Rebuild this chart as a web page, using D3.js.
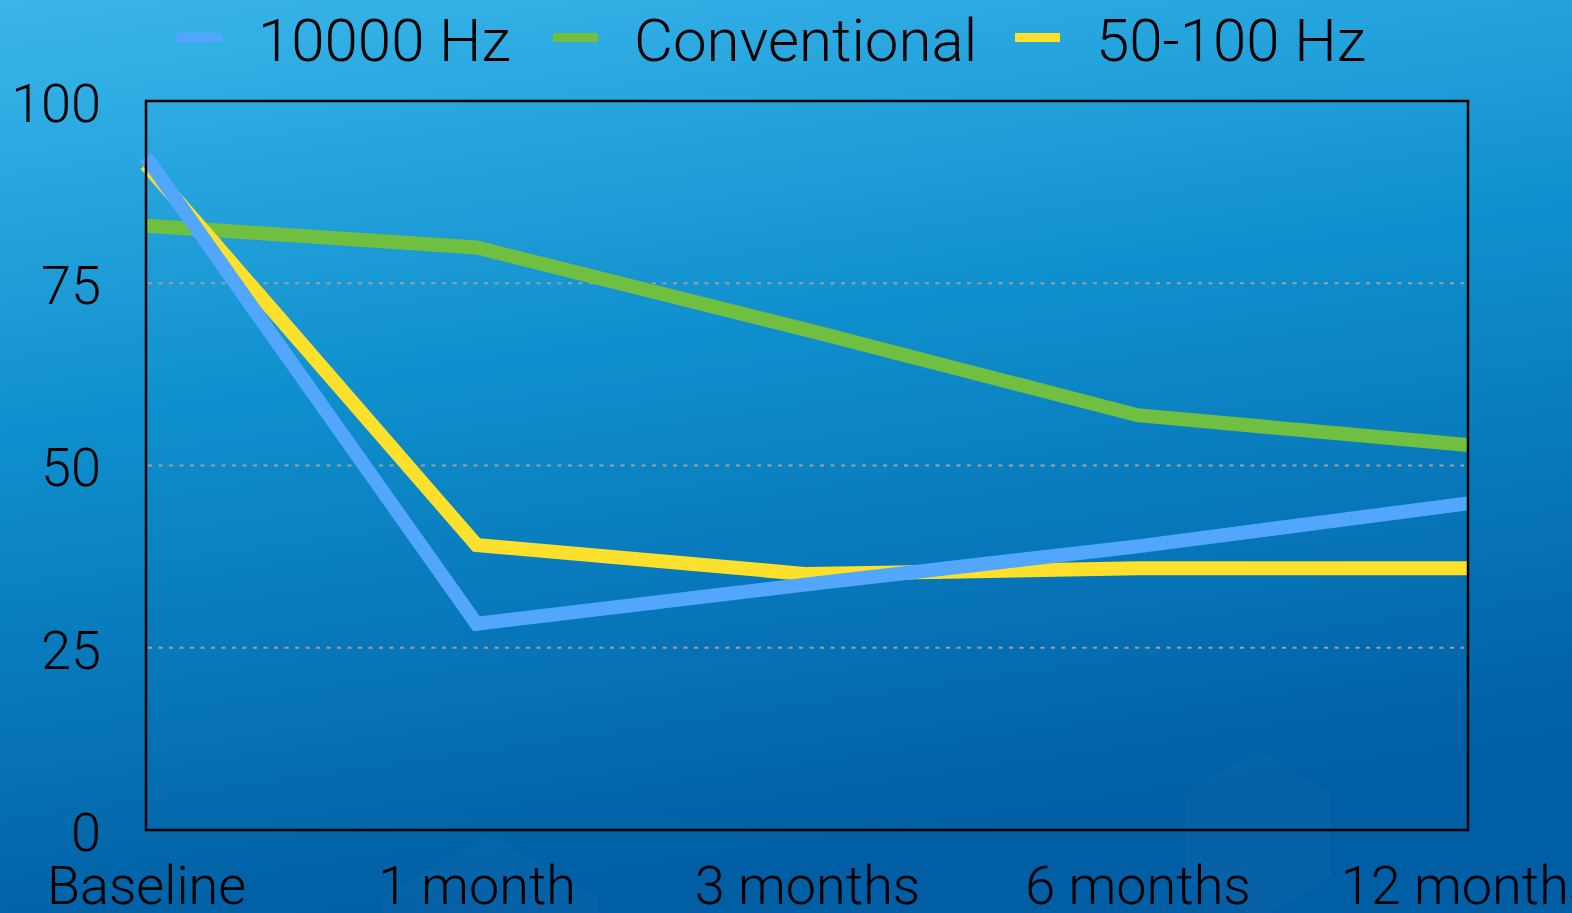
<!DOCTYPE html>
<html>
<head>
<meta charset="utf-8">
<script src="https://cdn.jsdelivr.net/npm/d3@7"></script>
<style>
  html, body { margin: 0; padding: 0; overflow: hidden; }
  body { width: 1572px; height: 913px; }
  text { font-family: Roboto, "Liberation Sans", sans-serif; font-weight: 300; fill: #000; }
</style>
</head>
<body>
<div id="chart"></div>
<script>
const categories = ["Baseline", "1 month", "3 months", "6 months", "12 months"];
const seriesNames = ["10000 Hz", "Conventional", "50-100 Hz"];
const hz10000 = [92.3, 28.3, 33.7, 38.9, 44.8];
const conventional = [82.9, 79.9, 68.6, 56.9, 52.8];
const hz50to100 = [91.3, 39.1, 35.1, 35.9, 35.9];
const yTicks = [0, 25, 50, 75, 100];
const gridTicks = [25, 50, 75];

const colors = {
  "10000 Hz": "#52a7fc",
  "Conventional": "#70bf41",
  "50-100 Hz": "#fce02c"
};

const width = 1572;
const height = 913;
const margin = { top: 101, right: 104, bottom: 83, left: 146 };

const svg = d3.select("#chart")
  .append("svg")
  .attr("width", width)
  .attr("height", height);

// background
const defs = svg.append("defs");
const bg = defs.append("linearGradient")
  .attr("id", "bg")
  .attr("x1", "0").attr("y1", "0")
  .attr("x2", "0.25").attr("y2", "1");
bg.append("stop").attr("offset", "0%").attr("stop-color", "#3ab6ea");
bg.append("stop").attr("offset", "45%").attr("stop-color", "#0f8fcd");
bg.append("stop").attr("offset", "100%").attr("stop-color", "#005ea4");

svg.append("rect")
  .attr("width", width)
  .attr("height", height)
  .attr("fill", "url(#bg)");

// faint decorative hexagons
const hex = (cx, cy, r) => d3.range(6).map(i => {
  const a = Math.PI / 3 * i - Math.PI / 2;
  return [cx + r * Math.cos(a), cy + r * Math.sin(a)];
});
svg.selectAll("polygon.hex")
  .data([[1258, 835, 85], [490, 960, 125]])
  .join("polygon")
  .attr("class", "hex")
  .attr("points", d => hex(d[0], d[1], d[2]).join(" "))
  .attr("fill", "#ffffff")
  .attr("fill-opacity", 0.025);

const x = d3.scalePoint()
  .domain(categories)
  .range([margin.left, width - margin.right]);

const y = d3.scaleLinear()
  .domain([0, 100])
  .range([height - margin.bottom, margin.top]);

// grid lines
svg.append("g")
  .selectAll("line")
  .data(gridTicks)
  .join("line")
  .attr("x1", margin.left + 2)
  .attr("x2", width - margin.right - 4)
  .attr("y1", d => y(d))
  .attr("y2", d => y(d))
  .attr("stroke", "#a3a09a")
  .attr("stroke-width", 2)
  .attr("stroke-dasharray", "4,6.5");

// y axis labels
const yAxis = d3.axisLeft(y).tickValues(yTicks).tickSize(0).tickPadding(45);
svg.append("g")
  .attr("transform", `translate(${margin.left},3)`)
  .call(yAxis)
  .call(g => g.select(".domain").remove())
  .selectAll("text")
  .style("font-size", "54px")
  .style("font-family", "Roboto, 'Liberation Sans', sans-serif")
  .style("font-weight", 300)
  .attr("fill", "#000");

// x axis labels
const xAxis = d3.axisBottom(x).tickSize(0).tickPadding(36);
svg.append("g")
  .attr("transform", `translate(0,${height - margin.bottom})`)
  .call(xAxis)
  .call(g => g.select(".domain").remove())
  .selectAll("text")
  .style("font-size", "54px")
  .style("font-family", "Roboto, 'Liberation Sans', sans-serif")
  .style("font-weight", 300)
  .attr("fill", "#000");

// lines
const seriesData = {
  "10000 Hz": hz10000,
  "Conventional": conventional,
  "50-100 Hz": hz50to100
};
const line = d3.line()
  .x((d, i) => x(categories[i]))
  .y(d => y(d));

const drawOrder = ["Conventional", "50-100 Hz", "10000 Hz"];
svg.append("g")
  .selectAll("path")
  .data(drawOrder)
  .join("path")
  .attr("d", d => line(seriesData[d]))
  .attr("fill", "none")
  .attr("stroke", d => colors[d])
  .attr("stroke-width", 14)
  .attr("stroke-linejoin", "miter");

// plot frame
svg.append("rect")
  .attr("x", margin.left)
  .attr("y", margin.top)
  .attr("width", width - margin.left - margin.right)
  .attr("height", height - margin.top - margin.bottom)
  .attr("fill", "none")
  .attr("stroke", "#000")
  .attr("stroke-width", 2.5);

// legend
const legendX = [177, 553, 1015];
const legend = svg.append("g")
  .selectAll("g")
  .data(seriesNames)
  .join("g")
  .attr("transform", (d, i) => `translate(${legendX[i]},37)`);

legend.append("rect")
  .attr("x", 0)
  .attr("y", -4)
  .attr("width", 45)
  .attr("height", 9)
  .attr("fill", d => colors[d]);

legend.append("text")
  .attr("x", 81)
  .attr("y", 24)
  .style("font-size", "60px")
  .text(d => d);
</script>
</body>
</html>
